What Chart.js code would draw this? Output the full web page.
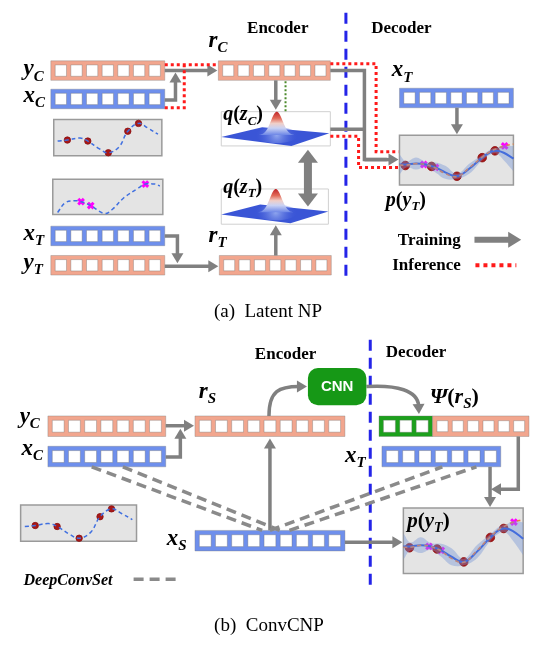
<!DOCTYPE html>
<html><head><meta charset="utf-8">
<script src="https://cdn.jsdelivr.net/npm/chart.js@4.4.0/dist/chart.umd.min.js"></script>
<style>html,body{margin:0;padding:0;background:#fff;overflow:hidden}#wrap{width:536px;height:646px}</style>
</head><body><div id="wrap"><canvas id="c" width="536" height="646"></canvas></div>
<script>
// ---------- DATA (thumbnail curves, local unit coordinates) ----------
// sampled function shown in the context thumbnails
const ctxCurveX = [0.036,0.126,0.243,0.315,0.423,0.505,0.604,0.685,0.784,0.874,0.964];
const ctxCurveY = [0.405,0.432,0.486,0.405,0.189,0.081,0.243,0.676,0.892,0.757,0.595];
const ctxPointsX = [0.126,0.315,0.505,0.685,0.784];
const ctxPointsY = [0.432,0.405,0.081,0.676,0.892];
// target thumbnail
const tgtCurveX = [0.044,0.115,0.204,0.257,0.345,0.469,0.540,0.646,0.779,0.841,0.929,0.973];
const tgtCurveY = [0.056,0.333,0.389,0.361,0.250,0.028,0.139,0.472,0.750,0.861,0.861,0.806];
const tgtPointsX = [0.257,0.345,0.841];
const tgtPointsY = [0.361,0.250,0.861];
// predictive p(y_T) thumbnails
const predX    = [0,0.06,0.145,0.231,0.316,0.402,0.504,0.615,0.726,0.803,0.855,0.915,1];
const predMean = [0.412,0.412,0.431,0.412,0.353,0.255,0.176,0.333,0.549,0.667,0.686,0.647,0.529];
const predStd  = [0.20,0.06,0.12,0.05,0.10,0.13,0.05,0.10,0.05,0.05,0.06,0.15,0.25];
const trueY    = [0.40,0.40,0.43,0.41,0.34,0.23,0.17,0.35,0.56,0.68,0.73,0.78,0.82];
const obsX = [0.051,0.282,0.504,0.726,0.838];
const obsY = [0.392,0.373,0.176,0.549,0.686];
const tObsX = [0.214,0.316,0.923];
const tObsY = [0.412,0.353,0.784];

// ---------- LAYOUT (diagram frame, in scale units) ----------
const BOX = {
  ctx1:{x:48,y:115,w:111,h:37}, tgt1:{x:47,y:176,w:113,h:36}, pred1:{x:403,y:131,w:117,h:51},
  ctx2:{x:14,y:509,w:119,h:37}, pred2:{x:407,y:512,w:123,h:67}
};
function mapPts(b, xs, ys){ return xs.map((x,i)=>({x:b.x+x*b.w, y:b.y+b.h-ys[i]*b.h})); }
const up = predMean.map((m,i)=>m+predStd[i]);
const lo = predMean.map((m,i)=>m-predStd[i]);

const ORANGE='rgb(242,166,142)', BLUE='rgb(110,143,236)', GREEN='rgb(28,160,28)', GRAY='#808080', RED='#ff1a1a';

function bandSets(b){
  return [
    {data:mapPts(b,predX,up), showLine:true, borderWidth:0, pointRadius:0, tension:0.4, fill:false},
    {data:mapPts(b,predX,lo), showLine:true, borderWidth:0, pointRadius:0, tension:0.4, fill:'-1', backgroundColor:'rgba(120,150,215,0.42)'}
  ];
}
function lineSet(b, xs, ys, color, w, dash){
  return {data:mapPts(b,xs,ys), showLine:true, borderColor:color, borderWidth:w, borderDash:dash, pointRadius:0, tension:0.4, fill:false};
}
function dotSet(b, xs, ys, r){
  return {data:mapPts(b,xs,ys), showLine:false, pointRadius:r, pointBackgroundColor:'#a81818', pointBorderColor:'#8a1010', pointBorderWidth:0.8};
}
function crossSet(b, xs, ys){
  return {data:mapPts(b,xs,ys), showLine:false, pointStyle:'crossRot', pointRadius:4, pointBorderColor:'#ff00ff', pointBorderWidth:3};
}
const datasets = [
  ...bandSets(BOX.pred1), ...bandSets(BOX.pred2),
  lineSet(BOX.pred1,predX,trueY,'#f07a3a',1.6,[4,3]),
  lineSet(BOX.pred2,predX,trueY,'#f07a3a',1.6,[4,3]),
  lineSet(BOX.pred1,predX,predMean,'#2050e0',2,[]),
  lineSet(BOX.pred2,predX,predMean,'#2050e0',2,[]),
  lineSet(BOX.ctx1,ctxCurveX,ctxCurveY,'#3f6fe0',1.5,[4,3]),
  lineSet(BOX.ctx2,ctxCurveX,ctxCurveY,'#3f6fe0',1.5,[4,3]),
  lineSet(BOX.tgt1,tgtCurveX,tgtCurveY,'#3f6fe0',1.5,[4,3]),
  dotSet(BOX.ctx1,ctxPointsX,ctxPointsY,3.2),
  dotSet(BOX.ctx2,ctxPointsX,ctxPointsY,3.2),
  dotSet(BOX.pred1,obsX,obsY,4.3),
  dotSet(BOX.pred2,obsX,obsY,4.3),
  crossSet(BOX.tgt1,tgtPointsX,tgtPointsY),
  crossSet(BOX.pred1,tObsX,tObsY),
  crossSet(BOX.pred2,tObsX,tObsY)
];

const diagram = {
  id:'diagram',
  beforeDatasetsDraw(chart){
    const ctx=chart.ctx, xs=chart.scales.x, ys=chart.scales.y;
    const X=v=>xs.getPixelForValue(v), Y=v=>ys.getPixelForValue(v);
    const P=p=>[X(p[0]),Y(p[1])];
    ctx.save();
    function rect(x,y,w,h,fill,stroke,lw){
      ctx.beginPath(); ctx.rect(X(x),Y(y),X(x+w)-X(x),Y(y+h)-Y(y));
      if(fill){ctx.fillStyle=fill; ctx.fill();}
      if(stroke){ctx.strokeStyle=stroke; ctx.lineWidth=lw||1; ctx.stroke();}
    }
    function bar(x,y,w,h,n,fill){
      rect(x,y,w,h,fill,'rgba(120,120,120,0.45)',0.8);
      const pad=4.5, g=4.5, cs=(w-2*pad-(n-1)*g)/n;
      for(let i=0;i<n;i++){
        rect(x+pad+i*(cs+g), y+(h-cs)/2, cs, cs, '#ffffff','rgba(110,110,110,0.45)',0.8);
      }
    }
    function poly(pts,color,width,dash,cap){
      ctx.save(); ctx.strokeStyle=color; ctx.lineWidth=width; ctx.setLineDash(dash||[]);
      ctx.lineCap=cap||'butt'; ctx.lineJoin='miter';
      ctx.beginPath(); pts.map(P).forEach((p,i)=> i?ctx.lineTo(p[0],p[1]):ctx.moveTo(p[0],p[1]));
      ctx.stroke(); ctx.restore();
    }
    function head(from,tip,len,half,color){
      const dx=tip[0]-from[0], dy=tip[1]-from[1], L=Math.hypot(dx,dy), ux=dx/L, uy=dy/L;
      const bx=tip[0]-ux*len, by=tip[1]-uy*len;
      ctx.fillStyle=color; ctx.beginPath(); ctx.moveTo(tip[0],tip[1]);
      ctx.lineTo(bx-uy*half,by+ux*half); ctx.lineTo(bx+uy*half,by-ux*half); ctx.closePath(); ctx.fill();
    }
    function arrow(pts,width,len,half,color){
      color=color||GRAY; width=width||3.5; len=len||10; half=half||6;
      const q=pts.map(P), n=q.length, tip=q[n-1], prev=q[n-2];
      const dx=tip[0]-prev[0], dy=tip[1]-prev[1], L=Math.hypot(dx,dy);
      const end=[tip[0]-dx/L*(len-2), tip[1]-dy/L*(len-2)];
      ctx.save(); ctx.strokeStyle=color; ctx.lineWidth=width; ctx.setLineDash([]); ctx.lineJoin='miter';
      ctx.beginPath(); q.slice(0,n-1).forEach((p,i)=> i?ctx.lineTo(p[0],p[1]):ctx.moveTo(p[0],p[1]));
      ctx.lineTo(end[0],end[1]); ctx.stroke(); ctx.restore();
      head(prev,tip,len,half,color);
    }
    function curveArrow(a,c1,c2,t){
      const A=P(a),C1=P(c1),C2=P(c2),T=P(t);
      const dx=T[0]-C2[0], dy=T[1]-C2[1], L=Math.hypot(dx,dy);
      const E=[T[0]-dx/L*8,T[1]-dy/L*8];
      ctx.save(); ctx.strokeStyle=GRAY; ctx.lineWidth=3.5; ctx.setLineDash([]);
      ctx.beginPath(); ctx.moveTo(A[0],A[1]); ctx.bezierCurveTo(C1[0],C1[1],C2[0],C2[1],E[0],E[1]); ctx.stroke(); ctx.restore();
      head(C2,T,10,6,GRAY);
    }
    function gauss(quad,cx,baseY,peakY,sigma){
      const q=quad.map(P);
      ctx.fillStyle='#3a55d6'; ctx.beginPath(); q.forEach((p,i)=> i?ctx.lineTo(p[0],p[1]):ctx.moveTo(p[0],p[1])); ctx.closePath(); ctx.fill();
      // soft halo on the plane
      const hg=ctx.createRadialGradient(X(cx),Y(baseY),0,X(cx),Y(baseY),sigma*3.6);
      hg.addColorStop(0,'rgba(150,172,240,0.95)'); hg.addColorStop(1,'rgba(60,85,214,0)');
      ctx.fillStyle=hg; ctx.beginPath(); ctx.ellipse(X(cx),Y(baseY),sigma*3.6,sigma*1.3,0,0,Math.PI*2); ctx.fill();
      const gr=ctx.createLinearGradient(0,Y(peakY),0,Y(baseY));
      gr.addColorStop(0,'#c0262a'); gr.addColorStop(0.28,'#e26a58'); gr.addColorStop(0.5,'#f0cfc8');
      gr.addColorStop(0.7,'#c9d2f4'); gr.addColorStop(1,'#6a84e6');
      ctx.fillStyle=gr; ctx.beginPath();
      for(let t=-3;t<=3.01;t+=0.1){
        const x=X(cx+t*sigma), y=Y(baseY-(baseY-peakY)*Math.exp(-t*t/2));
        if(t===-3) ctx.moveTo(x,y); else ctx.lineTo(x,y);
      }
      ctx.closePath(); ctx.fill();
    }

    // thumbnail frames
    Object.values(BOX).forEach(b=>rect(b.x,b.y,b.w,b.h,'#e4e4e4','#9a9a9a',1.5));
    // q boxes
    rect(220,107,112,35,'#ffffff','#d0d0d0',1);
    rect(220,186,110,36,'#ffffff','#d0d0d0',1);
    gauss([[220,133],[262,123],[331,129],[292,142]],277,131,107,6);
    gauss([[220,212],[260,202],[330,209],[291,221]],276,210,186,6);

    // ---- top panel bars
    bar(45,55,117,20,7,ORANGE);
    bar(45,84,117,20,7,BLUE);
    bar(217,55,115,20,7,ORANGE);
    bar(403,83,117,20,7,BLUE);
    bar(45,224,117,20,7,BLUE);
    bar(45,254,117,20,7,ORANGE);
    bar(218,254,115,20,7,ORANGE);
    // ---- bottom panel bars
    bar(42,418,121,21,7,ORANGE);
    bar(42,449,121,21,7,BLUE);
    bar(193,418,154,21,9,ORANGE);
    bar(193,535,154,21,9,BLUE);
    bar(382,418,55,21,3,GREEN);
    bar(437,418,99,21,6,ORANGE);
    bar(385,449,122,21,7,BLUE);

    // blue dashed encoder/decoder separators
    poly([[348,6],[348,280]],'#2424e8',3,[11,7]);
    poly([[373,340],[373,592]],'#2424e8',3,[11,7]);

    // ---- top panel arrows
    arrow([[162,65],[216,65]]);
    arrow([[162,95],[173,95],[173,67]]);
    arrow([[276,75],[276,105]]);
    poly([[332,65],[367,65],[367,156],[390,156]],GRAY,3.5);
    arrow([[367,156],[402,156]]);
    poly([[332,125],[367,125]],GRAY,3.5);
    arrow([[462,103],[462,130]]);
    arrow([[162,234],[175,234],[175,262]]);
    arrow([[162,265],[217,265]]);
    arrow([[276,254],[276,223]]);
    // double arrow between q(z_C) and q(z_T)
    poly([[309,158],[309,192]],GRAY,8);
    head(P([309,170]),P([309,146]),13,10,GRAY);
    head(P([309,180]),P([309,204]),13,10,GRAY);
    // red dotted inference paths
    poly([[162,59],[216,59]],RED,3,[3,3]);
    poly([[162,103],[182,103],[182,60]],RED,3,[3,3]);
    poly([[332,58],[379,58],[379,148],[402,148]],RED,3,[3,3]);
    poly([[332,132],[361,132],[361,164],[402,164]],RED,3,[3,3]);
    // green dotted
    poly([[286,76],[286,107]],'#4c8a2c',2,[2,2]);
    // legend
    poly([[480,238],[516,238]],GRAY,6);
    head(P([500,238]),P([528,238]),13,8,GRAY);
    poly([[481,264],[523,264]],RED,4,[4,4]);

    // ---- bottom panel
    arrow([[163,428],[192,428]]);
    arrow([[163,460],[178,460],[178,431]]);
    arrow([[270,535],[270,441]]);
    arrow([[347,547],[406,547]]);
    arrow([[496,470],[496,511]]);
    arrow([[525,439],[525,493],[497,493]]);
    curveArrow([269,418],[269,392],[280,388],[308,388]);
    curveArrow([369,388],[400,386],[422,392],[423,416]);
    // CNN block
    ctx.fillStyle='rgb(22,152,22)'; ctx.beginPath();
    ctx.roundRect(X(309),Y(369),X(369)-X(309),Y(407)-Y(369),10); ctx.fill();
    // DeepConvSet dashed lines
    const DS=['#8a8a8a',3.5,[10,6]];
    poly([[87,470],[262,535]],...DS);
    poly([[119,470],[280,535]],...DS);
    poly([[270,535],[447,470]],...DS);
    poly([[290,535],[482,470]],...DS);
    poly([[130,585],[175,585]],...DS);
    ctx.restore();
  },
  afterDatasetsDraw(chart){
    const ctx=chart.ctx, xs=chart.scales.x, ys=chart.scales.y;
    const X=v=>xs.getPixelForValue(v), Y=v=>ys.getPixelForValue(v);
    ctx.save();
    ctx.fillStyle='#000'; ctx.textBaseline='alphabetic';
    const SERIF='"Liberation Serif","Times New Roman",serif';
    function rich(parts,x,y,size){
      let cx=X(x);
      parts.forEach(([t,k])=>{
        let f, dy=0;
        if(k==='s'){ f=`bold italic ${Math.round(size*0.66)}px ${SERIF}`; dy=size*0.22; }
        else if(k==='n'){ f=`bold ${size}px ${SERIF}`; }
        else { f=`bold italic ${size}px ${SERIF}`; }
        ctx.font=f; ctx.fillText(t,cx,Y(y)+dy); cx+=ctx.measureText(t).width;
      });
    }
    function txt(t,x,y,font,align,color){
      ctx.font=font; ctx.textAlign=align||'left'; ctx.fillStyle=color||'#000';
      ctx.fillText(t,X(x),Y(y)); ctx.textAlign='left'; ctx.fillStyle='#000';
    }
    const S=23;
    // top panel labels
    rich([['y','i'],['C','s']],17,70,S);
    rich([['x','i'],['C','s']],17,97,S);
    rich([['r','i'],['C','s']],207,41,S);
    rich([['q','i'],['(','n'],['z','i'],['C','s'],[')','n']],222,116,20);
    rich([['x','i'],['T','s']],395,71,S);
    rich([['p','i'],['(','n'],['y','i'],['T','s'],[')','n']],389,203,20);
    rich([['x','i'],['T','s']],17,238,S);
    rich([['y','i'],['T','s']],17,268,S);
    rich([['r','i'],['T','s']],207,240,S);
    rich([['q','i'],['(','n'],['z','i'],['T','s'],[')','n']],222,190,20);
    txt('Encoder',278,27,`bold 17px ${SERIF}`,'center');
    txt('Decoder',405,27,`bold 17px ${SERIF}`,'center');
    txt('Training',466,243,`bold 17px ${SERIF}`,'right');
    txt('Inference',466,269,`bold 17px ${SERIF}`,'right');
    txt('(a)  Latent NP',268,317,`19px ${SERIF}`,'center');
    // bottom panel labels
    txt('Encoder',286,360,`bold 17px ${SERIF}`,'center');
    txt('Decoder',420,358,`bold 17px ${SERIF}`,'center');
    rich([['r','i'],['S','s']],197,400,S);
    rich([['y','i'],['C','s']],13,425,S);
    rich([['x','i'],['C','s']],15,458,S);
    rich([['x','i'],['S','s']],164,550,S);
    rich([['x','i'],['T','s']],347,465,S);
    rich([['Ψ','i'],['(','n'],['r','i'],['S','s'],[')','n']],434,405,22);
    rich([['p','i'],['(','n'],['y','i'],['T','s'],[')','n']],411,532,21);
    txt('CNN',339,393,`bold 15px "Liberation Sans",Arial,sans-serif`,'center','#ffffff');
    txt('DeepConvSet',17,591,`bold italic 16px ${SERIF}`,'left');
    txt('(b)  ConvCNP',269,638,`19px ${SERIF}`,'center');
    ctx.restore();
  }
};

new Chart(document.getElementById('c'),{
  type:'scatter',
  data:{datasets},
  options:{
    responsive:false, animation:false, devicePixelRatio:1,
    layout:{padding:0},
    scales:{
      x:{type:'linear',min:0,max:536,display:false},
      y:{type:'linear',min:0,max:646,reverse:true,display:false}
    },
    plugins:{legend:{display:false},tooltip:{enabled:false},title:{display:false}},
    events:[]
  },
  plugins:[diagram]
});
</script></body></html>
